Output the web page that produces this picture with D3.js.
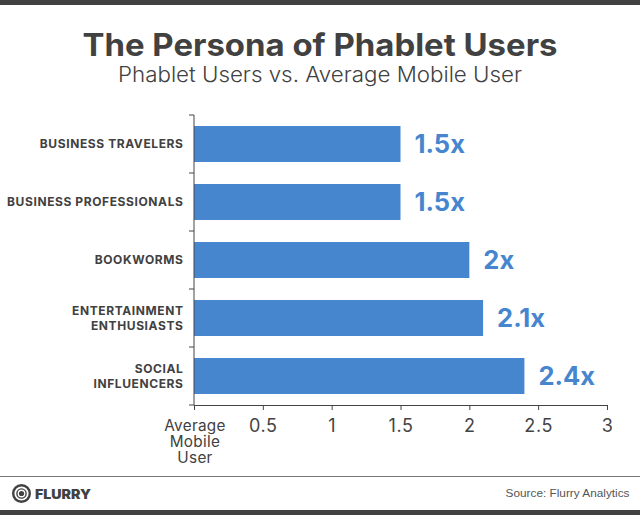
<!DOCTYPE html>
<html>
<head>
<meta charset="utf-8">
<script src="https://cdn.jsdelivr.net/npm/d3@7"></script>
<style>
  html, body { margin: 0; padding: 0; background: #fff; }
  svg { display: block; font-family: "Inter", "Noto Sans", sans-serif; }
  .tick text { fill: #444; }
  .tick line, .domain { stroke: #444; }
</style>
</head>
<body>
<svg id="chart" width="640" height="515"></svg>
<script>
const personas = [
  { name: ["BUSINESS TRAVELERS"], value: 1.5, label: "1.5x" },
  { name: ["BUSINESS PROFESSIONALS"], value: 1.5, label: "1.5x" },
  { name: ["BOOKWORMS"], value: 2, label: "2x" },
  { name: ["ENTERTAINMENT", "ENTHUSIASTS"], value: 2.1, label: "2.1x" },
  { name: ["SOCIAL", "INFLUENCERS"], value: 2.4, label: "2.4x" }
];

const svg = d3.select("#chart");
const dark = "#414141";

// frame bars and footer rule
svg.append("rect").attr("width", 640).attr("height", 5).attr("fill", dark);
svg.append("rect").attr("y", 510).attr("width", 640).attr("height", 5).attr("fill", dark);
svg.append("line").attr("x1", 0).attr("x2", 640).attr("y1", 476.5).attr("y2", 476.5)
  .attr("stroke", "#777").attr("stroke-width", 1.2);

// titles
svg.append("text").attr("x", 320).attr("y", 55.5).attr("text-anchor", "middle")
  .attr("font-size", 31).attr("font-weight", 700).attr("fill", dark)
  .attr("textLength", 475).attr("lengthAdjust", "spacingAndGlyphs")
  .text("The Persona of Phablet Users");
svg.append("text").attr("x", 320).attr("y", 82).attr("text-anchor", "middle")
  .attr("font-size", 21).attr("font-weight", 300).attr("fill", dark)
  .attr("textLength", 404).attr("lengthAdjust", "spacingAndGlyphs")
  .text("Phablet Users vs. Average Mobile User");

const x = d3.scaleLinear().domain([0, 3]).range([194, 607]);
const y = d3.scaleBand().domain(personas.map(d => d.name.join(" ")))
  .range([115, 405]).paddingInner(0.38).paddingOuter(0.19);

// bars
svg.append("g").selectAll("rect").data(personas).enter().append("rect")
  .attr("x", x(0))
  .attr("y", d => y(d.name.join(" ")))
  .attr("width", d => x(d.value) - x(0))
  .attr("height", y.bandwidth())
  .attr("fill", "#4686cf");

// value labels
svg.append("g").selectAll("text").data(personas).enter().append("text")
  .attr("x", d => x(d.value) + 14)
  .attr("y", d => y(d.name.join(" ")) + y.bandwidth() / 2 + 9)
  .attr("font-size", 25.5).attr("font-weight", 700).attr("fill", "#4686cf")
  .text(d => d.label);

// x axis
const xAxis = svg.append("g").attr("transform", "translate(0,405)")
  .call(d3.axisBottom(x).tickValues([0, 0.5, 1, 1.5, 2, 2.5, 3])
    .tickSize(5).tickSizeOuter(5).tickPadding(7).tickFormat(d => d === 0 ? "" : d3.format("")(d)));
xAxis.selectAll("text").attr("font-size", 18).attr("font-family", "Inter")
  .attr("letter-spacing", 0.6).attr("dy", "0.85em");

const avg = svg.append("text").attr("text-anchor", "middle").attr("font-size", 15.3)
  .attr("letter-spacing", 0.3).attr("fill", dark);
["Average", "Mobile", "User"].forEach((t, i) => {
  avg.append("tspan").attr("x", 195).attr("y", 431 + i * 16).text(t);
});

// y axis: ticks sit between the bands
const yLine = svg.append("g");
yLine.append("line").attr("x1", x(0)).attr("x2", x(0)).attr("y1", 115).attr("y2", 405)
  .attr("stroke", "#444");
yLine.selectAll("line.t").data(d3.range(6)).enter().append("line").attr("class", "t")
  .attr("x1", x(0) - 5).attr("x2", x(0))
  .attr("y1", i => 115 + i * y.step()).attr("y2", i => 115 + i * y.step())
  .attr("stroke", "#444");

// category labels
const cat = svg.append("g").selectAll("text").data(personas).enter().append("text")
  .attr("text-anchor", "end").attr("font-size", 12).attr("font-weight", 700)
  .attr("letter-spacing", 0.6).attr("fill", dark);
cat.each(function(d) {
  const mid = y(d.name.join(" ")) + y.bandwidth() / 2;
  const top = mid + 4 - (d.name.length - 1) * 7.5;
  d.name.forEach((t, i) => {
    d3.select(this).append("tspan").attr("x", 183.5).attr("y", top + i * 15).text(t);
  });
});

// footer
const logo = svg.append("g").attr("transform", "translate(21.5,493.5)");
logo.append("circle").attr("r", 8.3).attr("fill", "none").attr("stroke", dark).attr("stroke-width", 2.4);
logo.append("circle").attr("r", 4.6).attr("fill", "none").attr("stroke", dark).attr("stroke-width", 1.4);
logo.append("circle").attr("r", 2.6).attr("fill", dark);
svg.append("text").attr("x", 35).attr("y", 498.5).attr("font-size", 13).attr("font-weight", 900)
  .attr("fill", dark).attr("textLength", 56).attr("lengthAdjust", "spacingAndGlyphs").text("FLURRY");
svg.append("text").attr("x", 629.5).attr("y", 497).attr("text-anchor", "end")
  .attr("font-family", "Liberation Sans").attr("font-size", 11.8).attr("fill", "#555")
  .text("Source: Flurry Analytics");
</script>
</body>
</html>
